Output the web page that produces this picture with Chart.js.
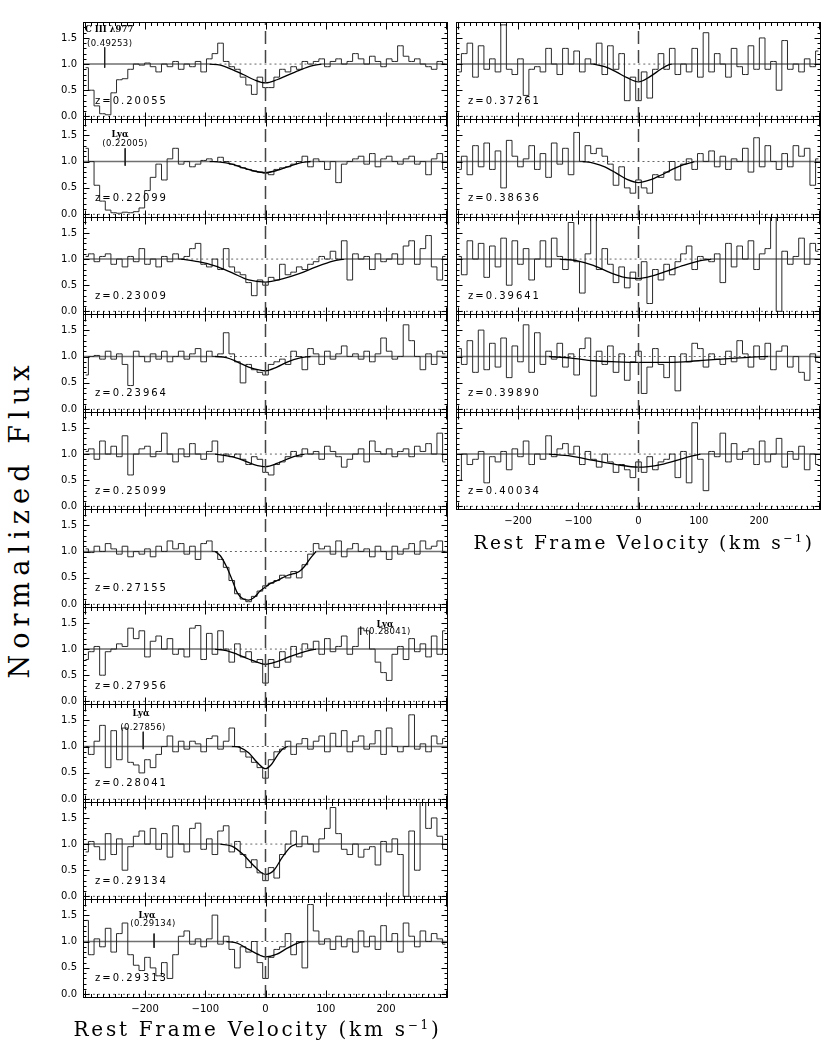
<!DOCTYPE html>
<html>
<head>
<meta charset="utf-8">
<script src="https://cdn.jsdelivr.net/npm/chart.js@4.4.1/dist/chart.umd.min.js"></script>
<style>
html,body{margin:0;padding:0;background:#fff;}
body{width:830px;height:1040px;position:relative;overflow:hidden;}
canvas{position:absolute;}
.t{position:absolute;white-space:nowrap;color:#000;line-height:1;}
.zl{font-family:'DejaVu Sans';font-size:10px;letter-spacing:2px;transform:translateY(-50%);}
.n1{font-family:'DejaVu Serif';font-size:8.5px;font-weight:bold;}
.n2{font-family:'DejaVu Sans';font-size:8.5px;letter-spacing:0.4px;}
.xt{font-family:'DejaVu Serif';transform:translate(-50%,-50%);}
.yt{font-family:'DejaVu Serif';font-size:27px;transform:translate(-50%,-50%) rotate(-90deg);}
sup{font-size:60%;vertical-align:0.6em;line-height:0;}
</style>
</head>
<body>
<script>
// ================= DATA =================
const velocity = [-298.7,-289.3,-280.0,-270.7,-261.3,-252.0,-242.7,-233.3,-224.0,-214.7,-205.3,-196.0,-186.7,
  -177.3,-168.0,-158.7,-149.3,-140.0,-130.7,-121.3,-112.0,-102.7,-93.3,-84.0,-74.7,-65.3,
  -56.0,-46.7,-37.3,-28.0,-18.7,-9.3,0,9.3,18.7,28.0,37.3,46.7,56.0,
  65.3,74.7,84.0,93.3,102.7,112.0,121.3,130.7,140.0,149.3,158.7,168.0,177.3,
  186.7,196.0,205.3,214.7,224.0,233.3,242.7,252.0,261.3,270.7,280.0,289.3,298.7];

const xTickValues = [-200, -100, 0, 100, 200];
const yTickValues = [0, 0.5, 1.0, 1.5];

const redshiftLabels = ['z=0.20055','z=0.22099','z=0.23009','z=0.23964','z=0.25099','z=0.27155',
  'z=0.27956','z=0.28041','z=0.29134','z=0.29313','z=0.37261','z=0.38636','z=0.39641','z=0.39890','z=0.40034'];

const flux_z020055 = [0.93,0.5,0.2,0.05,0.03,0.45,0.7,0.72,0.9,1.0,0.98,1.02,0.95,
  0.85,1.0,0.95,1.05,0.9,1.0,0.95,1.05,0.85,1.1,1.2,1.4,1.05,
  0.95,0.9,0.75,0.6,0.42,0.75,0.55,0.55,0.75,0.9,0.85,0.95,0.9,
  1.05,1.0,1.05,1.1,0.95,1.05,1.1,1.0,1.05,1.2,1.1,1.0,1.15,
  1.05,0.95,1.1,1.05,1.35,1.15,1.05,1.1,1.0,0.95,0.9,1.05,1.0];
const flux_z022099 = [1.25,1.0,0.55,0.25,0.08,0.03,0.02,0.04,0.03,0.05,0.12,0.45,0.7,
  0.95,0.65,1.05,1.25,0.95,1.0,0.9,0.95,1.02,1.05,1.0,1.08,1.0,
  0.95,0.92,0.88,0.85,0.82,0.8,0.78,0.75,0.85,0.88,0.9,0.95,1.0,
  1.1,0.9,1.05,1.0,0.85,1.0,0.6,0.95,1.0,1.05,1.1,0.95,1.15,
  0.9,1.05,1.1,1.0,0.95,1.05,1.1,0.95,1.0,0.75,1.05,1.15,0.85];
const flux_z023009 = [1.05,1.1,0.95,1.05,1.1,0.9,1.0,0.85,1.05,0.95,1.2,0.9,1.0,
  0.85,1.05,0.95,1.1,1.0,1.05,1.2,1.3,0.9,0.85,1.0,0.8,1.2,
  0.85,0.75,0.7,0.55,0.3,0.6,0.5,0.65,0.6,0.9,0.7,0.75,0.85,
  0.8,0.9,0.95,1.05,1.0,1.15,1.0,1.35,0.6,1.1,1.0,1.05,0.8,
  1.1,0.95,1.0,1.1,0.9,1.25,1.35,0.9,1.2,1.45,0.85,0.6,1.05];
const flux_z023964 = [0.65,1.0,1.02,0.95,1.1,0.95,1.05,0.85,0.45,1.1,1.0,0.9,1.05,
  0.95,1.1,0.9,1.0,1.1,0.95,1.05,1.15,0.9,1.1,1.0,1.05,1.45,
  1.05,0.9,0.5,0.85,0.75,0.7,0.65,0.85,0.9,0.95,0.85,1.1,1.0,
  0.75,1.15,1.05,0.85,1.1,0.95,1.05,1.2,1.0,1.05,0.95,1.1,0.9,
  1.05,1.35,1.1,0.95,1.0,1.6,1.3,1.0,0.75,1.05,0.85,1.1,1.05];
const flux_z025099 = [1.05,1.1,0.9,1.25,1.0,1.15,0.95,1.35,0.6,1.0,1.1,1.15,0.95,
  1.05,1.4,1.0,0.85,1.1,0.95,1.2,1.0,0.9,1.05,1.25,0.85,1.0,
  0.95,1.0,0.9,0.8,0.95,0.9,0.65,0.6,0.8,0.85,0.95,1.05,0.95,
  1.1,1.0,1.05,0.9,1.15,1.05,0.95,0.75,0.9,1.0,1.1,0.85,1.25,
  1.05,1.0,1.1,0.95,1.05,1.1,0.95,1.15,1.05,1.2,1.0,1.4,0.85];
const flux_z027155 = [1.05,0.98,1.1,1.0,1.15,1.05,0.95,1.1,0.9,1.0,0.95,1.05,0.9,
  1.1,1.0,1.2,1.05,1.15,0.95,1.1,0.85,1.15,1.2,1.0,0.85,0.7,
  0.45,0.2,0.1,0.05,0.15,0.25,0.35,0.4,0.45,0.55,0.5,0.62,0.5,
  0.75,0.95,1.15,1.05,1.1,0.95,1.2,0.9,1.05,1.15,1.0,1.05,0.9,
  1.1,1.0,0.85,1.1,0.95,1.05,1.15,0.95,1.2,1.05,1.1,1.2,1.0];
const flux_z027956 = [0.8,0.95,1.05,0.5,0.95,1.0,1.1,1.05,1.4,1.2,1.35,0.85,1.15,
  1.25,1.0,1.2,0.9,1.0,0.85,1.4,1.45,0.8,1.3,0.9,1.35,1.0,
  0.75,1.1,0.85,0.95,0.75,0.8,0.35,0.8,0.65,0.95,0.75,1.05,0.85,
  1.1,1.0,1.15,0.9,1.2,0.95,1.05,1.25,0.9,1.05,1.4,1.35,1.0,
  0.75,0.55,0.4,0.9,1.05,0.8,1.2,0.95,1.1,0.85,1.25,0.9,1.35];
const flux_z028041 = [1.0,0.85,1.1,1.4,0.6,1.3,0.75,1.35,0.7,0.65,0.5,0.75,0.6,
  0.85,1.0,1.2,0.9,1.1,0.95,1.1,1.05,0.9,1.15,1.2,0.95,1.1,
  1.35,1.0,0.9,0.8,0.7,0.6,0.4,0.75,0.9,0.95,1.1,0.85,1.05,
  1.15,0.95,1.1,1.2,0.9,1.25,1.0,1.3,0.9,1.1,1.2,0.95,1.05,
  1.3,0.85,1.35,1.0,0.9,1.0,1.6,0.95,1.05,0.9,1.2,1.05,1.15];
const flux_z029134 = [0.85,1.05,0.95,0.7,1.2,0.8,1.1,0.5,0.95,1.15,1.25,1.0,1.3,
  0.9,1.2,0.75,1.35,1.0,0.85,1.3,1.4,0.9,1.1,0.8,1.25,1.35,
  0.85,1.05,0.8,0.55,0.7,0.45,0.3,0.55,0.35,0.8,1.0,1.25,0.95,
  1.15,1.0,0.85,1.1,1.3,1.7,1.2,0.9,0.8,1.0,0.75,0.9,0.95,
  0.6,1.05,0.85,1.1,0.8,0.0,1.25,0.5,1.8,1.3,1.5,1.15,0.9];
const flux_z029313 = [1.4,0.75,1.05,0.9,1.25,0.8,1.15,1.35,0.75,0.55,0.45,0.7,0.5,
  0.35,0.6,0.3,0.75,1.1,1.2,0.95,1.05,0.9,1.05,1.5,0.95,1.1,
  0.85,0.5,0.9,0.8,1.0,0.6,0.3,0.7,0.85,0.9,1.15,0.75,1.0,
  0.5,1.7,1.2,0.95,1.05,0.85,1.1,0.9,1.05,0.8,1.2,0.9,1.1,
  0.85,1.3,1.0,1.15,0.8,1.35,1.1,0.9,1.2,1.0,1.15,1.05,0.95];
const flux_z037261 = [0.85,1.2,1.4,0.75,1.35,0.9,1.1,0.85,1.75,0.9,0.8,1.1,0.4,
  0.9,0.95,0.85,1.3,1.0,0.8,1.3,1.0,1.25,0.85,1.1,1.0,1.4,
  0.8,1.35,0.9,1.2,0.3,0.75,0.3,0.85,0.35,0.9,1.2,0.9,1.3,
  0.8,1.0,0.85,1.3,0.75,1.6,0.85,1.2,1.0,0.75,1.3,0.95,0.8,
  1.35,0.9,1.5,0.9,1.05,0.5,1.45,0.9,1.0,0.85,1.1,0.95,1.25];
const flux_z038636 = [0.85,1.1,0.75,1.3,0.9,1.35,0.85,1.2,0.5,1.4,1.1,0.9,1.05,
  1.3,0.85,1.15,0.7,1.35,0.95,1.25,0.75,1.55,1.0,1.3,1.15,1.25,
  1.1,0.95,0.55,0.9,0.5,0.4,0.65,0.5,0.4,0.75,0.7,0.8,1.0,
  0.65,0.95,1.05,0.85,1.15,1.0,1.2,0.9,1.1,0.85,1.05,1.0,1.25,
  0.8,1.45,0.9,1.3,1.0,0.85,1.15,0.9,1.3,1.1,1.25,0.55,1.05];
const flux_z039641 = [1.05,0.7,1.35,1.0,1.3,0.65,1.25,0.85,1.4,0.5,1.35,0.9,1.2,
  0.6,1.0,1.35,0.85,1.4,1.05,0.8,1.7,0.95,0.35,1.1,1.8,0.8,
  1.2,0.9,0.55,0.85,0.45,0.75,0.6,0.95,0.15,0.8,0.6,0.9,0.7,
  0.95,1.1,1.25,0.8,1.05,1.0,0.95,1.1,0.55,1.3,0.85,1.25,1.0,
  1.35,0.8,1.1,1.2,1.8,0.0,1.15,0.9,1.05,1.4,0.9,1.3,1.15];
const flux_z039890 = [1.15,0.85,1.3,0.7,1.5,0.75,1.25,0.8,1.35,0.6,1.2,0.9,1.6,
  0.7,1.45,0.85,1.1,0.95,1.25,0.8,1.05,0.65,1.15,1.35,0.25,1.1,
  0.85,1.2,0.7,1.05,0.55,0.9,1.1,0.3,0.8,1.15,0.85,0.6,1.0,
  0.35,1.05,0.9,1.25,1.15,0.8,1.05,0.95,0.85,1.1,0.9,1.3,1.05,
  0.8,1.2,0.95,1.25,0.75,1.1,1.2,0.8,1.0,0.7,0.55,1.05,0.9];
const flux_z040034 = [0.5,1.0,0.8,0.9,1.05,0.45,0.95,0.85,1.05,0.7,1.1,0.95,1.25,
  0.8,1.0,0.9,1.35,0.95,1.1,1.2,1.0,1.15,0.8,1.05,0.9,0.75,
  1.0,0.85,0.65,0.8,0.7,0.55,0.85,0.65,0.95,0.7,0.85,0.9,1.0,
  0.55,1.05,0.45,1.6,0.9,0.3,1.05,0.95,1.4,0.85,1.2,0.9,1.05,
  1.1,0.8,1.25,0.85,1.0,1.3,0.75,1.05,0.9,1.15,0.7,1.0,0.8];

// Voigt-profile fits (velocity, normalized flux)
const fitVel_z020055 = [-93,-75,-56,-37,-19,0,19,37,56,75,93];
const fitFlux_z020055 = [1,0.98,0.9,0.8,0.7,0.64,0.7,0.79,0.88,0.96,1.0];
const fitVel_z022099 = [-93,-75,-56,-37,-19,0,19,37,56,75];
const fitFlux_z022099 = [1,0.99,0.95,0.88,0.82,0.79,0.83,0.9,0.97,1.0];
const fitVel_z023009 = [-140,-112,-84,-56,-28,0,28,56,84,112,131];
const fitFlux_z023009 = [1,0.95,0.87,0.74,0.6,0.56,0.62,0.72,0.85,0.96,1.0];
const fitVel_z023964 = [-84,-65,-47,-28,-9,0,19,37,56,75];
const fitFlux_z023964 = [1,0.98,0.9,0.8,0.74,0.73,0.8,0.9,0.97,1.0];
const fitVel_z025099 = [-84,-56,-37,-19,0,19,37,56,65];
const fitFlux_z025099 = [1,0.95,0.88,0.8,0.76,0.82,0.91,0.98,1.0];
const fitVel_z027155 = [-84,-75,-65,-56,-47,-37,-28,-19,-9,0,9,19,28,37,47,56,65,75,84];
const fitFlux_z027155 = [1.0,0.92,0.72,0.48,0.22,0.1,0.08,0.13,0.25,0.33,0.4,0.45,0.5,0.55,0.58,0.62,0.72,0.88,1.0];
const fitVel_z027956 = [-84,-65,-47,-28,-9,0,19,37,56,75,84];
const fitFlux_z027956 = [1,0.97,0.9,0.81,0.73,0.71,0.76,0.84,0.92,0.98,1.0];
const fitVel_z028041 = [-56,-42,-28,-14,0,9,19,28,37];
const fitFlux_z028041 = [1,0.98,0.88,0.7,0.58,0.65,0.82,0.95,1.0];
const fitVel_z029134 = [-75,-56,-37,-19,0,14,28,42,51];
const fitFlux_z029134 = [1,0.96,0.8,0.58,0.42,0.5,0.75,0.95,1.0];
const fitVel_z029313 = [-65,-47,-28,-9,0,19,37,56,65];
const fitFlux_z029313 = [1,0.97,0.85,0.74,0.71,0.76,0.88,0.98,1.0];
const fitVel_z037261 = [-75,-56,-37,-19,0,19,37,51,56];
const fitFlux_z037261 = [1,0.95,0.85,0.74,0.66,0.76,0.9,0.99,1.0];
const fitVel_z038636 = [-93,-75,-56,-37,-19,0,19,37,56,75,93];
const fitFlux_z038636 = [1,0.97,0.9,0.78,0.66,0.6,0.65,0.74,0.85,0.94,1.0];
const fitVel_z039641 = [-131,-103,-75,-47,-23,0,23,47,75,103,121];
const fitFlux_z039641 = [1,0.97,0.88,0.74,0.65,0.63,0.68,0.77,0.88,0.97,1.0];
const fitVel_z039890 = [-149,-112,-75,-37,0,37,75,112,149,187,215];
const fitFlux_z039890 = [1,0.97,0.92,0.9,0.89,0.89,0.9,0.93,0.96,0.99,1.0];
const fitVel_z040034 = [-149,-112,-75,-37,0,37,75,103];
const fitFlux_z040034 = [1,0.96,0.88,0.8,0.75,0.8,0.92,1.0];

// Identified interloper lines
const markerPanel = [0, 1, 6, 7, 9];
const markerVelocity = [-267, -233, 158, -203, -185];
const markerTop = [1.32, 1.25, 1.43, 1.28, 1.15];
const markerBottom = [0.93, 0.92, 1.27, 0.95, 0.88];
const markerName = ['C III λ977', 'Lyα', 'Lyα', 'Lyα', 'Lyα'];
const markerRedshift = ['(0.49253)', '(0.22005)', '(0.28041)', '(0.27856)', '(0.29134)'];

// ================= LAYOUT =================
const X_MIN = -303, X_MAX = 303, Y_MIN = -0.07, Y_MAX = 1.805;
const COL_X = [83, 456], FRAME_W = 365, TOP0 = 21.7, PANEL_H = 97.5;
const Y_AXIS_W = 44, X_AXIS_H = 24;
const N_ROWS = [10, 5];
// note label placement: [x1, dy1, x2, dy2, leftAligned]
const noteLayout = [[85,7,87,21,true],[120,15,125,24,false],[385,17,388,24,false],[141,9,143,23,false],[147,16,153,24,false]];

const fluxes = [flux_z020055,flux_z022099,flux_z023009,flux_z023964,flux_z025099,flux_z027155,flux_z027956,
  flux_z028041,flux_z029134,flux_z029313,flux_z037261,flux_z038636,flux_z039641,flux_z039890,flux_z040034];
const fitVels = [fitVel_z020055,fitVel_z022099,fitVel_z023009,fitVel_z023964,fitVel_z025099,fitVel_z027155,fitVel_z027956,
  fitVel_z028041,fitVel_z029134,fitVel_z029313,fitVel_z037261,fitVel_z038636,fitVel_z039641,fitVel_z039890,fitVel_z040034];
const fitFluxes = [fitFlux_z020055,fitFlux_z022099,fitFlux_z023009,fitFlux_z023964,fitFlux_z025099,fitFlux_z027155,fitFlux_z027956,
  fitFlux_z028041,fitFlux_z029134,fitFlux_z029313,fitFlux_z037261,fitFlux_z038636,fitFlux_z039641,fitFlux_z039890,fitFlux_z040034];

fluxes.forEach((f,i)=>{ if(f.length!==velocity.length) throw new Error('flux length mismatch panel '+i+': '+f.length); });
fitVels.forEach((f,i)=>{ if(f.length!==fitFluxes[i].length) throw new Error('fit length mismatch '+i); });

const framePlugin = {
  id: 'frame',
  afterDraw(chart) {
    const {ctx, chartArea: a, scales: {x, y}} = chart;
    ctx.save();
    ctx.strokeStyle = '#000';
    ctx.lineWidth = 1;
    const L = Math.round(a.left) + 0.5, R = Math.round(a.right) - 0.5;
    const T = Math.round(a.top) + 0.5, B = Math.round(a.bottom) - 0.5;
    ctx.strokeRect(L, T, R - L, B - T);
    ctx.beginPath();
    for (let k = -30; k <= 30; k++) {
      const px = Math.round(x.getPixelForValue(k * 10)) + 0.5;
      const len = (k % 10 === 0) ? 7 : 3.5;
      ctx.moveTo(px, T); ctx.lineTo(px, T + len);
      ctx.moveTo(px, B); ctx.lineTo(px, B - len);
    }
    for (let k = 0; k <= 18; k++) {
      const py = Math.round(y.getPixelForValue(k / 10)) + 0.5;
      if (py < T || py > B) continue;
      const len = (k % 5 === 0) ? 6 : 3;
      ctx.moveTo(L, py); ctx.lineTo(L + len, py);
      ctx.moveTo(R, py); ctx.lineTo(R - len, py);
    }
    ctx.stroke();
    ctx.restore();
  }
};

function addText(cls, html, left, top, style) {
  const d = document.createElement('div');
  d.className = 't ' + cls;
  d.innerHTML = html;
  d.style.left = left + 'px';
  d.style.top = top + 'px';
  if (style) Object.assign(d.style, style);
  document.body.appendChild(d);
  return d;
}

for (let i = 0; i < 15; i++) {
  const col = i < 10 ? 0 : 1;
  const row = i < 10 ? i : i - 10;
  const top = Math.round(TOP0 + PANEL_H * row);
  const bottom = Math.round(TOP0 + PANEL_H * (row + 1));
  const h = bottom - top + 1;
  const isLeft = col === 0, isBottom = row === N_ROWS[col] - 1;
  const W = FRAME_W + (isLeft ? Y_AXIS_W : 0), H = h + (isBottom ? X_AXIS_H : 0);
  const cv = document.createElement('canvas');
  cv.width = W; cv.height = H;
  cv.style.width = W + 'px'; cv.style.height = H + 'px';
  cv.style.left = (COL_X[col] - (isLeft ? Y_AXIS_W : 0)) + 'px';
  cv.style.top = top + 'px';
  document.body.appendChild(cv);

  const fv = fitVels[i], ff = fitFluxes[i];
  const fs = fv[0], fe = fv[fv.length - 1];
  const datasets = [
    {data: fv.map((v, k) => ({x: v, y: ff[k]})), borderColor: '#000', borderWidth: 1.3, cubicInterpolationMode: 'monotone', order: 1},
    {data: velocity.map((v, k) => ({x: v, y: fluxes[i][k]})), borderColor: '#2a2a2a', borderWidth: 1, stepped: 'middle', order: 2},
    {data: [{x: X_MIN, y: 1}, {x: fs, y: 1}, {x: (fs + fe) / 2, y: null}, {x: fe, y: 1}, {x: X_MAX, y: 1}], borderColor: '#707070', borderWidth: 1.6, spanGaps: false, order: 3},
    {data: [{x: fs, y: 1}, {x: fe, y: 1}], borderColor: '#666', borderWidth: 1, borderDash: [2, 3], order: 3},
    {data: [{x: X_MIN, y: 0}, {x: X_MAX, y: 0}], borderColor: '#666', borderWidth: 1, borderDash: [2, 3], order: 3},
    {data: [{x: 0, y: Y_MIN}, {x: 0, y: Y_MAX}], borderColor: '#444', borderWidth: 1.5, borderDash: [13, 6], order: 0}
  ];
  const mi = markerPanel.indexOf(i);
  if (mi >= 0) {
    datasets.push({data: [{x: markerVelocity[mi], y: markerTop[mi]}, {x: markerVelocity[mi], y: markerBottom[mi]}], borderColor: '#222', borderWidth: 1, order: 0});
  }

  new Chart(cv, {
    type: 'line',
    data: {datasets},
    options: {
      responsive: false, animation: false, devicePixelRatio: 1,
      layout: {padding: 0},
      plugins: {legend: {display: false}, tooltip: {enabled: false}},
      elements: {point: {radius: 0, hoverRadius: 0}, line: {tension: 0, fill: false}},
      events: [],
      scales: {
        x: {
          type: 'linear', min: X_MIN, max: X_MAX, display: isBottom,
          grid: {display: false, drawTicks: false}, border: {display: false},
          afterBuildTicks: s => { s.ticks = xTickValues.map(v => ({value: v})); },
          afterFit: s => { if (isBottom) { s.height = X_AXIS_H; s.paddingLeft = 0; s.paddingRight = 0; } },
          ticks: {padding: 5, maxRotation: 0, autoSkip: false, color: '#000',
            font: {family: 'DejaVu Sans', size: 10},
            callback: v => v < 0 ? '\u2212' + Math.abs(v) : String(v)}
        },
        y: {
          type: 'linear', min: Y_MIN, max: Y_MAX, display: isLeft,
          grid: {display: false, drawTicks: false}, border: {display: false},
          afterBuildTicks: s => { s.ticks = yTickValues.map(v => ({value: v})); },
          afterFit: s => { if (isLeft) { s.width = Y_AXIS_W; s.paddingTop = 0; s.paddingBottom = 0; } },
          ticks: {padding: 6, color: '#000', font: {family: 'DejaVu Sans', size: 10},
            callback: v => Number(v).toFixed(1)}
        }
      }
    },
    plugins: [framePlugin]
  });

  // redshift label
  addText('zl', redshiftLabels[i], COL_X[col] + 12, top + 78.5);
  // interloper labels
  if (mi >= 0) {
    const nl = noteLayout[mi];
    const tr = nl[4] ? 'translateY(-50%)' : 'translate(-50%,-50%)';
    addText('n1', markerName[mi], nl[0], top + nl[1], {transform: tr});
    addText('n2', markerRedshift[mi], nl[2], top + nl[3], {transform: tr});
  }
}

// axis titles, stretched to the reference widths
function fitWidth(el, target) {
  const n = el.textContent.length;
  const w = el.offsetWidth;
  el.style.letterSpacing = ((target - w) / Math.max(1, n - 1)) + 'px';
}
const xTitle = 'Rest Frame Velocity (km s<sup>\u22121</sup>)';
const xl = addText('xt', xTitle, 257.5, 1029, {fontSize: '20px'});
fitWidth(xl, 365);
const xr = addText('xt', xTitle, 644, 542.5, {fontSize: '18.5px'});
fitWidth(xr, 338);
const yl = addText('yt', 'Normalized Flux', 18.5, 518.5);
fitWidth(yl, 313);
</script>
</body>
</html>
